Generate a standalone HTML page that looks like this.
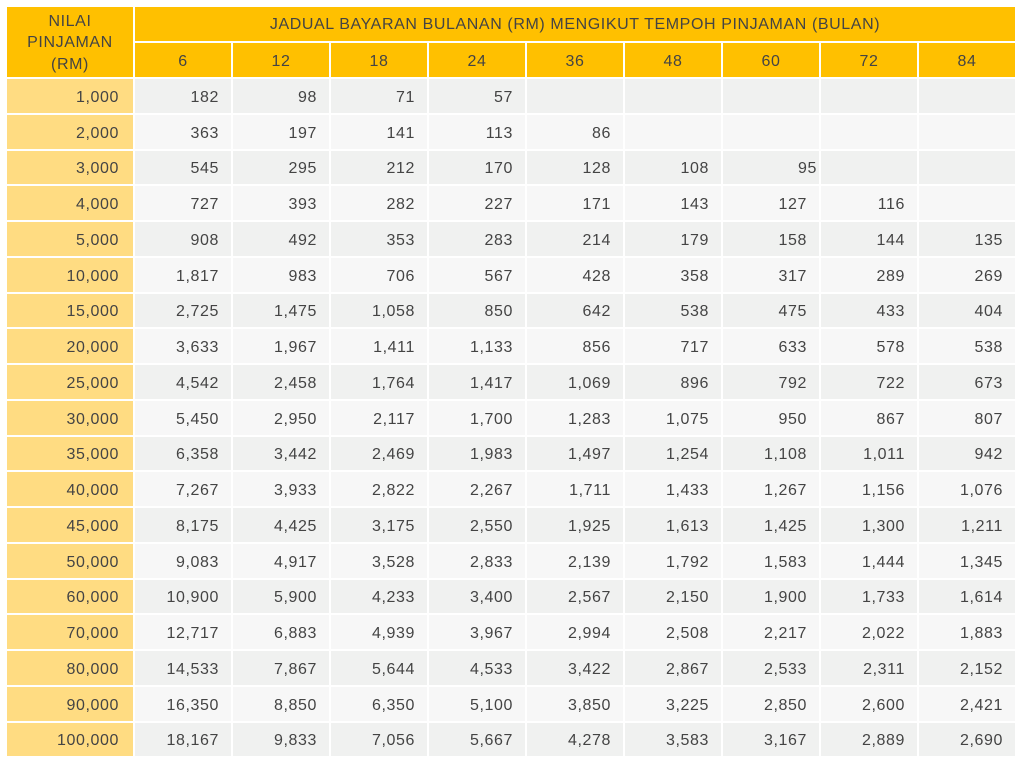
<!DOCTYPE html>
<html><head><meta charset="utf-8"><style>
body{margin:0;width:1024px;height:762px;background:#fff;font-family:"Liberation Sans",sans-serif;color:#444;position:relative;overflow:hidden}
div.c{position:absolute;box-sizing:border-box;font-size:16px;letter-spacing:0.6px;display:flex;align-items:center;padding-top:3px}
.h{background:#ffc000;justify-content:center;text-align:center;color:#444}
.l{background:#ffdc82;justify-content:flex-end;padding-right:14px}
.d{justify-content:flex-end;padding-right:12px}
</style></head><body>
<script>
const cols=["6","12","18","24","36","48","60","72","84"];
const rows=[["1,000","182","98","71","57","","","","",""],
["2,000","363","197","141","113","86","","","",""],
["3,000","545","295","212","170","128","108","95*","",""],
["4,000","727","393","282","227","171","143","127","116",""],
["5,000","908","492","353","283","214","179","158","144","135"],
["10,000","1,817","983","706","567","428","358","317","289","269"],
["15,000","2,725","1,475","1,058","850","642","538","475","433","404"],
["20,000","3,633","1,967","1,411","1,133","856","717","633","578","538"],
["25,000","4,542","2,458","1,764","1,417","1,069","896","792","722","673"],
["30,000","5,450","2,950","2,117","1,700","1,283","1,075","950","867","807"],
["35,000","6,358","3,442","2,469","1,983","1,497","1,254","1,108","1,011","942"],
["40,000","7,267","3,933","2,822","2,267","1,711","1,433","1,267","1,156","1,076"],
["45,000","8,175","4,425","3,175","2,550","1,925","1,613","1,425","1,300","1,211"],
["50,000","9,083","4,917","3,528","2,833","2,139","1,792","1,583","1,444","1,345"],
["60,000","10,900","5,900","4,233","3,400","2,567","2,150","1,900","1,733","1,614"],
["70,000","12,717","6,883","4,939","3,967","2,994","2,508","2,217","2,022","1,883"],
["80,000","14,533","7,867","5,644","4,533","3,422","2,867","2,533","2,311","2,152"],
["90,000","16,350","8,850","6,350","5,100","3,850","3,225","2,850","2,600","2,421"],
["100,000","18,167","9,833","7,056","5,667","4,278","3,583","3,167","2,889","2,690"]];
let h='';
function cell(cls,x,y,w,hh,t,extra){h+=`<div class="c ${cls}" style="left:${x}px;top:${y}px;width:${w}px;height:${hh}px;${extra||''}">${t}</div>`;}
cell('h',7,7,126,70,'NILAI<br>PINJAMAN<br>(RM)','line-height:21.5px;padding-top:2px');
cell('h',135,7,880,34,'JADUAL BAYARAN BULANAN (RM) MENGIKUT TEMPOH PINJAMAN (BULAN)','padding-top:2px');
cols.forEach((c,i)=>cell('h',135+i*98,43,96,34,c));
rows.forEach((r,j)=>{
 const y=Math.round(79+j*35.75), hh=Math.round(79+(j+1)*35.75)-y-2;
 const bg=j%2==0?'#f0f1f0':'#f7f7f7';
 cell('l',7,y,126,hh,r[0]);
 for(let i=0;i<9;i++){let t=r[i+1],ex='background:'+bg+';';
  if(t.endsWith('*')){t=t.slice(0,-1);ex+='padding-right:2px;';}
  cell('d',135+i*98,y,96,hh,t,ex);}
});
document.write(h);
</script>
</body></html>
